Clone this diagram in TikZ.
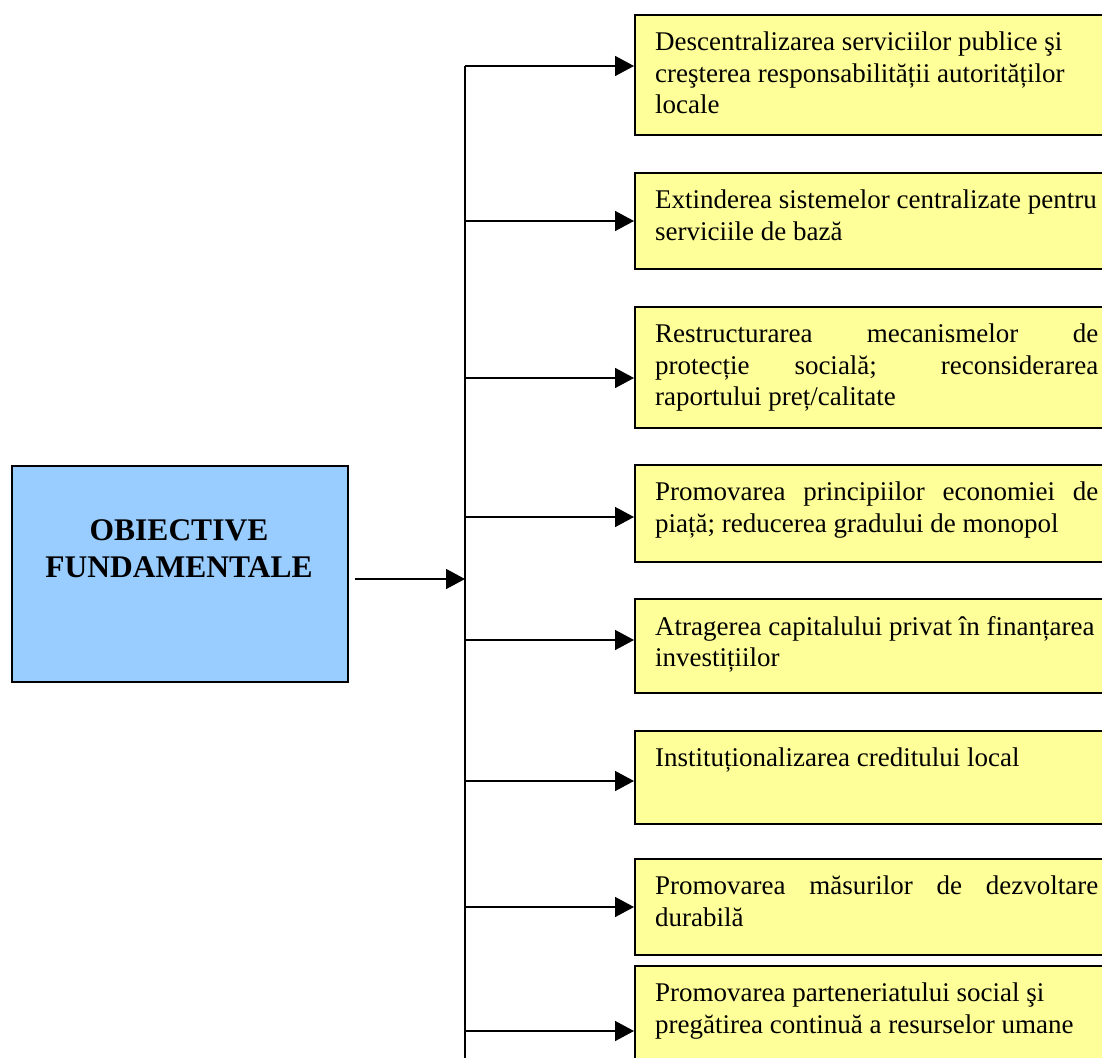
\documentclass[tikz,border=0pt]{standalone}
\usepackage{fontspec}
\setmainfont{Liberation Serif}
\usetikzlibrary{arrows.meta}
\definecolor{boxyellow}{HTML}{FFFF99}
\definecolor{boxblue}{HTML}{99CCFF}
% a line stretched to the full text width (justified)
\newcommand\fullline[1]{\makebox[443pt][s]{\spaceskip=.25em plus 1fil\relax #1}}
\begin{document}
\begin{tikzpicture}[x=1pt,y=-1pt,
  frame/.style={draw=black, line width=1.6pt, rectangle, inner sep=0pt, anchor=north west},
  ybox/.style={frame, fill=boxyellow, minimum width=500pt},
  itemtext/.style={anchor=north west, inner sep=0pt, align=left, text width=470pt,
    font=\fontsize{27}{31.2}\selectfont},
  link/.style={line width=1.5pt},
  tip/.style={link, -{Triangle[length=19pt,width=20pt]}}]
\useasboundingbox (0,0) rectangle (1102,1057);

% main objective box
\node[frame, fill=boxblue, minimum width=336pt, minimum height=216pt] (goal) at (11,465) {};
\node[font=\fontsize{31.5}{37}\selectfont\bfseries, align=center] (goaltitle) at (179,549)
  {OBIECTIVE\\FUNDAMENTALE};

% vertical distribution line
\coordinate (spinetop) at (465,66);
\coordinate (spinebot) at (465,1062);
\coordinate (hub) at (465,579);
\draw[link] (spinetop) -- (spinebot);
\draw[tip] ([xshift=6pt]goal.east |- hub) -- (hub);

% objective boxes: name, top, height, branch y, text
\foreach \n/\t/\h/\a/\txt in {
  b1/14/120/66/{Descentralizarea serviciilor publice şi\\creşterea responsabilității autorităților\\locale},
  b2/172/96/221/{Extinderea sistemelor centralizate pentru\\serviciile de bază},
  b3/306/121/378/{\fullline{Restructurarea mecanismelor de}\\\fullline{protecție socială; reconsiderarea}\\raportului preț/calitate},
  b4/464/97/517/{\fullline{Promovarea principiilor economiei de}\\piață; reducerea gradului de monopol},
  b5/598/94/640/{Atragerea capitalului privat în finanțarea\\investițiilor},
  b6/730/93/781/{Instituționalizarea creditului local},
  b7/858/96/907/{\fullline{Promovarea măsurilor de dezvoltare}\\durabilă},
  b8/965/120/1031/{Promovarea parteneriatului social şi\\pregătirea continuă a resurselor umane}} {
  \node[ybox, minimum height=\h pt] (\n) at (634,\t) {};
  \node[itemtext] (\n text) at (655,\t+18) {\spaceskip=0pt\xspaceskip=0pt\relax\txt};
  \coordinate (\n join) at (465,\a);
  \draw[tip] (\n join) -- (\n join -| \n.west);
}
\end{tikzpicture}
\end{document}
